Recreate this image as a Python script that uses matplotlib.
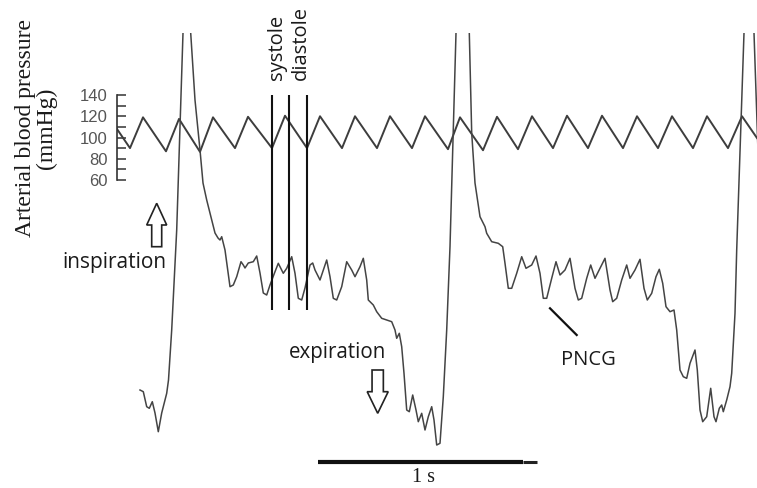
import matplotlib
matplotlib.use("Agg")
import matplotlib.pyplot as plt
import numpy as np
from matplotlib.patches import FancyArrow

# ---------------- data ----------------
FS = 205.0  # samples per second (1 s scale bar)

# arterial blood pressure (sample index, mmHg)
bp_samples = [0, 13, 26, 49, 62, 83, 96, 118, 131, 155, 168, 190, 203, 225, 238,
              260, 273, 295, 308, 331, 343, 366, 380, 401, 415, 436, 450, 471,
              485, 506, 520, 541, 555, 576, 590, 611, 625, 640]
bp_mmhg = [108, 90, 119, 87, 117.5, 86.5, 119, 90, 119.5, 90, 120.5, 90, 120, 90, 120,
           90, 120, 90, 120, 89, 119, 88, 119.5, 89, 120, 90, 120.5, 90,
           120.5, 90, 120, 90, 120, 90, 120, 90, 120, 99.5]

# PNCG trace (sample index, arbitrary units)
pncg_samples = [23, 26.3, 29.7, 32.3, 35.3, 38, 41.3, 44.7, 49.7, 51.5, 54.7, 59.7, 66, 70,
                73.7, 78, 83, 86, 89.7, 93, 98, 101, 103, 104.7, 108, 113, 116.3, 119.7,
                124, 126.3, 128, 131.3, 136.3, 139.7, 143, 146.3, 149.7, 153, 158, 161.3,
                166.3, 169.7, 174.7, 178, 181.3, 184.7, 188, 193, 195.7, 198, 203, 209.7,
                213, 216.3, 219.7, 224.7, 229.7, 234.7, 238, 243, 246.3, 249.7, 251.3,
                256.3, 259.7, 264.7, 269.7, 274.7, 278, 279.7, 282.3, 284.7, 287, 289.7,
                292.3, 295.7, 299, 301.3, 304.7, 308, 311.3, 314.7, 317, 319.7, 323,
                326.3, 329.7, 333, 339, 345.5, 352.3, 354.7, 358, 363, 368, 369.7, 374.7,
                381.3, 385.7, 388, 391.3, 394.7, 399.7, 404.7, 409, 414.7, 419, 423,
                426.3, 429.7, 434.7, 439, 443, 448, 453, 458, 461.3, 464.7, 469.7, 473.7,
                478, 483, 488, 493, 495.7, 499.7, 504.7, 509.7, 513, 518, 523, 527,
                530.3, 534.7, 539, 542.3, 545.7, 549, 553, 557, 559.7, 563, 566.3, 569.7,
                573, 578, 580.3, 583, 585.7, 589.7, 593.7, 597, 599, 602.3, 604.7, 606.3,
                609.7, 613, 614.7, 618, 619.7, 627, 632, 637, 639.7, 643]
pncg_au = [50, 48.3, 33.3, 31.7, 38.3, 27, 8.3, 27, 46.7, 60, 110, 210, 407, 500,
           407, 340, 290, 257, 240, 227, 207, 202, 200, 203.3, 190, 153.3, 155, 163.3,
           178.3, 175, 172, 177, 178.3, 184, 167, 147, 145, 155, 168.3, 176.7,
           166.7, 171.7, 183.3, 166.7, 141.7, 140, 152, 175, 177, 170, 160, 180,
           163.3, 141.7, 140, 153.3, 178.3, 170, 163.3, 173.3, 181.7, 160, 140,
           135, 128.3, 121.7, 120, 118.3, 110, 101.7, 106.7, 93.3, 66.7, 30,
           28.3, 45, 30, 18.3, 26.7, 10, 23.3, 33.3, 20, -5, -3.3,
           43.3, 110, 193.3, 407, 500, 407, 307, 257, 223.3, 213.3, 206.7, 198.3,
           196.7, 193.3, 176.7, 151.7, 151.7, 166.7, 183.3, 171.7, 175, 184, 166.7,
           141.7, 141.7, 161.7, 178.3, 165, 170, 181.7, 151.7, 140, 141.7, 161.7, 175,
           161.7, 171.7, 181.7, 150, 138.3, 141.7, 160, 175, 161.7, 170, 180.7, 151.7,
           140, 146.7, 163.3, 170.7, 156.7, 133.3, 128.3, 130, 110, 70, 63.3, 61.7,
           76.7, 90, 70, 30, 18.3, 23.3, 51.7, 23.3, 18.3, 31.7, 35, 28.3,
           40, 53.3, 66.7, 126.7, 190, 407, 500, 407, 327, 230]

# cardiac-cycle markers (sample index)
marker_samples = [154.7, 172, 189.7]
marker_labels = ["systole", "diastole"]

# BP axis ticks
bp_major_ticks = [60, 80, 100, 120, 140]
bp_minor_ticks = [70, 90, 110, 130]

# scale bar
scalebar_start_s = 0.982
scalebar_len_s = 1.0

# ---------------- figure ----------------
W, H = 757, 488
fig = plt.figure(figsize=(W / 100, H / 100), dpi=100)


def px_rect(x0, y0, x1, y1):
    return [x0 / W, 1 - y1 / H, (x1 - x0) / W, (y1 - y0) / H]


bg = fig.add_axes([0, 0, 1, 1])
bg.set_xlim(0, W)
bg.set_ylim(H, 0)
bg.axis("off")

LINE = "#3d3d3d"
SANS = "Open Sans"
SERIF = "Liberation Serif"

# BP axes
ax_bp = fig.add_axes(px_rect(117, 95, 757, 180))
ax_bp.set_facecolor("none")
ax_bp.set_xlim(0, 640 / FS)
ax_bp.set_ylim(60, 140)
for s in ["top", "right", "bottom"]:
    ax_bp.spines[s].set_visible(False)
ax_bp.spines["left"].set_color("#333333")
ax_bp.spines["left"].set_linewidth(1.2)
ax_bp.set_xticks([])
ax_bp.set_yticks(bp_major_ticks)
ax_bp.set_yticks(bp_minor_ticks, minor=True)
ax_bp.tick_params(axis="y", which="both", direction="in", length=6.5, width=1.1,
                  color="#333333", pad=7, labelsize=12, labelcolor="#555555")
for lab in ax_bp.get_yticklabels():
    lab.set_family("Liberation Sans")
ax_bp.plot(np.array(bp_samples) / FS, bp_mmhg, color=LINE, lw=1.4,
           solid_joinstyle="round")

# trace axes
ax_t = fig.add_axes(px_rect(117, 33, 757, 488))
ax_t.set_xlim(0, 640 / FS)
ax_t.set_ylim(-48, 407)
ax_t.axis("off")
ax_t.plot(np.array(pncg_samples) / FS, pncg_au, color="#444444", lw=1.1,
          solid_joinstyle="round")
ax_t.vlines(np.array(marker_samples) / FS, 130, 345, color="#111111", lw=1.5)
ax_t.plot([scalebar_start_s, scalebar_start_s + scalebar_len_s], [-21.7, -21.7],
          color="#111111", lw=3, solid_capstyle="butt")

# scale bar tail and label
bg.plot([523, 537], [462, 462], color="#222222", lw=2.2, solid_capstyle="butt")
bg.text(424, 482, "1 s", ha="center", va="baseline", family=SERIF, size=14.5,
        color="#1a1a1a")

# y label
bg.text(36, 128, "Arterial blood pressure\n(mmHg)", rotation=90, ha="center",
        va="center", family=SERIF, size=17, linespacing=1.0,
        multialignment="center", color="#1a1a1a")

# marker labels
bg.text(277.5, 80, marker_labels[0], rotation=90, ha="center", va="bottom",
        family=SANS, size=14.5, color="#1a1a1a")
bg.text(301, 80, marker_labels[1], rotation=90, ha="center", va="bottom",
        family=SANS, size=14.5, color="#1a1a1a")

# breathing labels and arrows
bg.text(62, 268.3, "inspiration", ha="left", va="baseline", family=SANS, size=15,
        color="#1a1a1a")
bg.text(289, 358.3, "expiration", ha="left", va="baseline", family=SANS, size=14.8,
        color="#1a1a1a")
bg.add_patch(FancyArrow(156.7, 246.7, 0, -43.4, width=10, head_width=20,
                        head_length=21.7, length_includes_head=True,
                        fc="white", ec="#222222", lw=1.2))
bg.add_patch(FancyArrow(377.7, 370, 0, 43.3, width=11.3, head_width=21,
                        head_length=21.6, length_includes_head=True,
                        fc="white", ec="#222222", lw=1.2))

# PNCG label
bg.plot([550, 576.7], [308.3, 335], color="#111111", lw=1.6)
bg.text(561, 365, "PNCG", ha="left", va="baseline", family=SANS, size=14.5,
        color="#1a1a1a")

fig.savefig("out.png", dpi=100)
